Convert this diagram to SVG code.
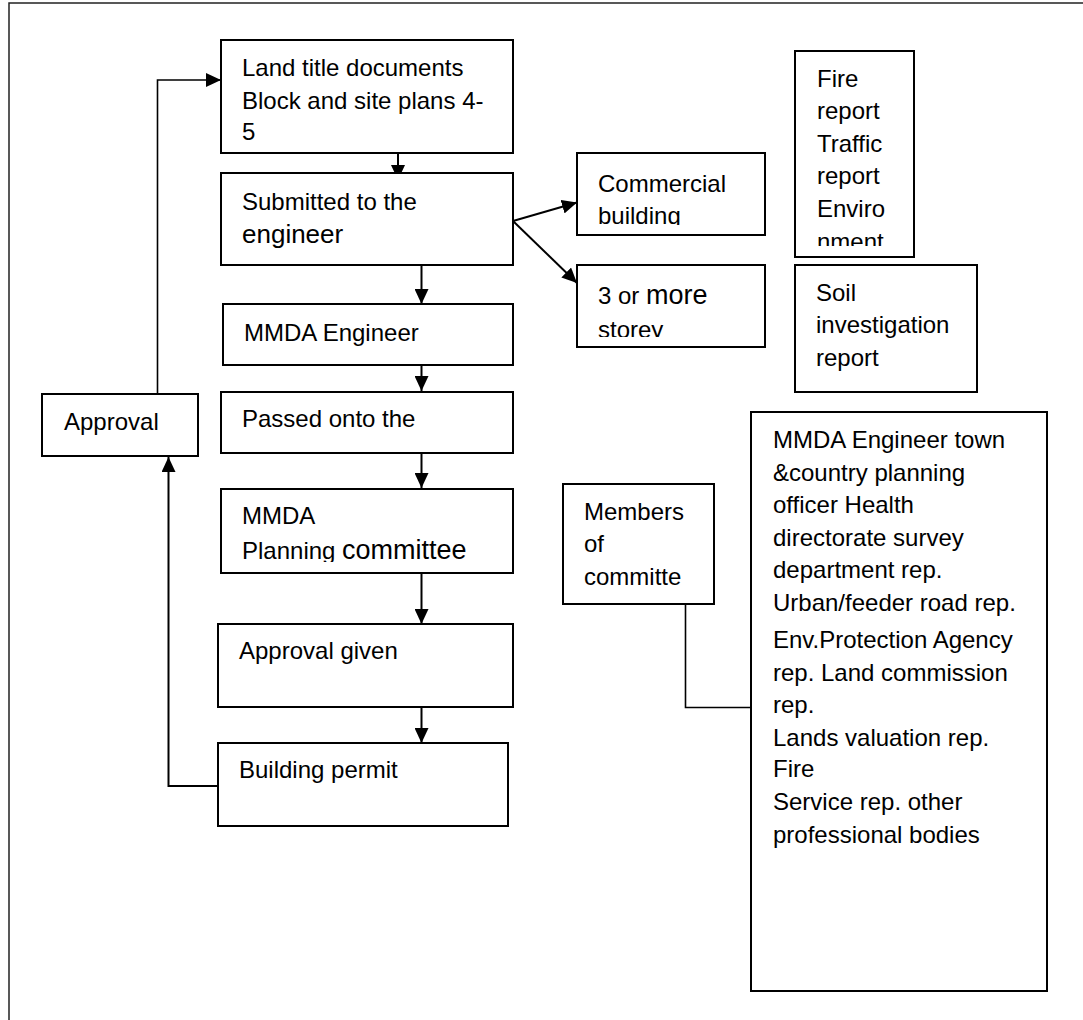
<svg xmlns="http://www.w3.org/2000/svg" width="1083" height="1020" viewBox="0 0 1083 1020">
<style>
.box{fill:#fff;stroke:#000;stroke-width:2}
.t{font-family:"Liberation Sans",Arial,sans-serif;font-size:24px;fill:#000}
.big{font-size:27px}
.c{fill:none;stroke:#000;stroke-width:2}
.thin{fill:none;stroke:#000;stroke-width:1.6}
</style>
<defs>
<marker id="ah" viewBox="0 0 15 14" refX="15" refY="7" markerWidth="15" markerHeight="14" orient="auto" markerUnits="userSpaceOnUse">
<path d="M0,0 L15,7 L0,14 z" fill="#000"/>
</marker>
<clipPath id="clipCom"><rect x="577" y="153" width="188" height="72"/></clipPath>
<clipPath id="clipSto"><rect x="577" y="265" width="188" height="72"/></clipPath>
<clipPath id="clipFire"><rect x="795" y="51" width="119" height="195"/></clipPath>
<clipPath id="clipPlan"><rect x="221" y="489" width="292" height="73"/></clipPath>
</defs>
<rect x="9" y="3" width="1090" height="1040" fill="none" stroke="#222" stroke-width="1.5"/>

<g id="connectors">
<line class="c" x1="398" y1="153" x2="398" y2="180" marker-end="url(#ah)"/>
<line class="c" x1="421.5" y1="265" x2="421.5" y2="304" marker-end="url(#ah)"/>
<line class="c" x1="421.5" y1="365" x2="421.5" y2="391" marker-end="url(#ah)"/>
<line class="c" x1="421.5" y1="453" x2="421.5" y2="488" marker-end="url(#ah)"/>
<line class="c" x1="421.5" y1="573" x2="421.5" y2="624" marker-end="url(#ah)"/>
<line class="c" x1="421.5" y1="707" x2="421.5" y2="743" marker-end="url(#ah)"/>
<path class="c" d="M218,786 H168.5 V457" marker-end="url(#ah)"/>
<path class="thin" d="M157.5,394 V80 H221" marker-end="url(#ah)"/>
<line class="c" x1="513" y1="221" x2="577" y2="202.5" marker-end="url(#ah)"/>
<line class="c" x1="513" y1="221" x2="577" y2="283" marker-end="url(#ah)"/>
<path class="thin" d="M685.5,604 V707.5 H751"/>
</g>

<g id="land-title">
<rect class="box" x="221" y="40" width="292" height="113"/>
<text class="t" x="242" y="76">Land title documents</text>
<text class="t" x="242" y="109">Block and site plans 4-</text>
<text class="t" x="242" y="140">5</text>
</g>

<g id="submitted">
<rect class="box" x="221" y="173" width="292" height="92"/>
<text class="t" x="242" y="210">Submitted to the</text>
<text class="t" x="242" y="243" style="font-size:26px">engineer</text>
</g>

<g id="mmda-engineer">
<rect class="box" x="223" y="304" width="290" height="61"/>
<text class="t" x="244" y="341">MMDA Engineer</text>
</g>

<g id="passed">
<rect class="box" x="221" y="392" width="292" height="61"/>
<text class="t" x="242" y="427">Passed onto the</text>
</g>

<g id="planning">
<rect class="box" x="221" y="489" width="292" height="84"/>
<text class="t" x="242" y="524">MMDA</text>
<text class="t" x="242" y="559" clip-path="url(#clipPlan)">Planning <tspan class="big">committee</tspan></text>
</g>

<g id="approval-given">
<rect class="box" x="218" y="624" width="295" height="83"/>
<text class="t" x="239" y="659">Approval given</text>
</g>

<g id="building-permit">
<rect class="box" x="218" y="743" width="290" height="83"/>
<text class="t" x="239" y="778">Building permit</text>
</g>

<g id="approval">
<rect class="box" x="42" y="394" width="156" height="62"/>
<text class="t" x="64" y="430">Approval</text>
</g>

<g id="commercial">
<rect class="box" x="577" y="153" width="188" height="82"/>
<g clip-path="url(#clipCom)">
<text class="t" x="598" y="192">Commercial</text>
<text class="t" x="598" y="224">building</text>
</g>
</g>

<g id="storey">
<rect class="box" x="577" y="265" width="188" height="82"/>
<g clip-path="url(#clipSto)">
<text class="t" x="598" y="304">3 or <tspan class="big">more</tspan></text>
<text class="t" x="598" y="338">storey</text>
</g>
</g>

<g id="reports">
<rect class="box" x="795" y="51" width="119" height="206"/>
<g clip-path="url(#clipFire)">
<text class="t" x="817" y="87">Fire</text>
<text class="t" x="817" y="119">report</text>
<text class="t" x="817" y="152">Traffic</text>
<text class="t" x="817" y="184">report</text>
<text class="t" x="817" y="217">Enviro</text>
<text class="t" x="817" y="250">nment</text>
</g>
</g>

<g id="soil">
<rect class="box" x="795" y="265" width="182" height="127"/>
<text class="t" x="816" y="301">Soil</text>
<text class="t" x="816" y="333">investigation</text>
<text class="t" x="816" y="366">report</text>
</g>

<g id="members">
<rect class="box" x="563" y="484" width="151" height="120"/>
<text class="t" x="584" y="520">Members</text>
<text class="t" x="584" y="552">of</text>
<text class="t" x="584" y="585">committe</text>
</g>

<g id="member-list">
<rect class="box" x="751" y="412" width="296" height="579"/>
<text class="t" x="773" y="448">MMDA Engineer town</text>
<text class="t" x="773" y="481">&amp;country planning</text>
<text class="t" x="773" y="513">officer Health</text>
<text class="t" x="773" y="546">directorate survey</text>
<text class="t" x="773" y="578">department rep.</text>
<text class="t" x="773" y="611">Urban/feeder road rep.</text>
<text class="t" x="773" y="648">Env.Protection Agency</text>
<text class="t" x="773" y="681">rep. Land commission</text>
<text class="t" x="773" y="713">rep.</text>
<text class="t" x="773" y="746">Lands valuation rep.</text>
<text class="t" x="773" y="777">Fire</text>
<text class="t" x="773" y="810">Service rep. other</text>
<text class="t" x="773" y="843">professional bodies</text>
</g>
</svg>
